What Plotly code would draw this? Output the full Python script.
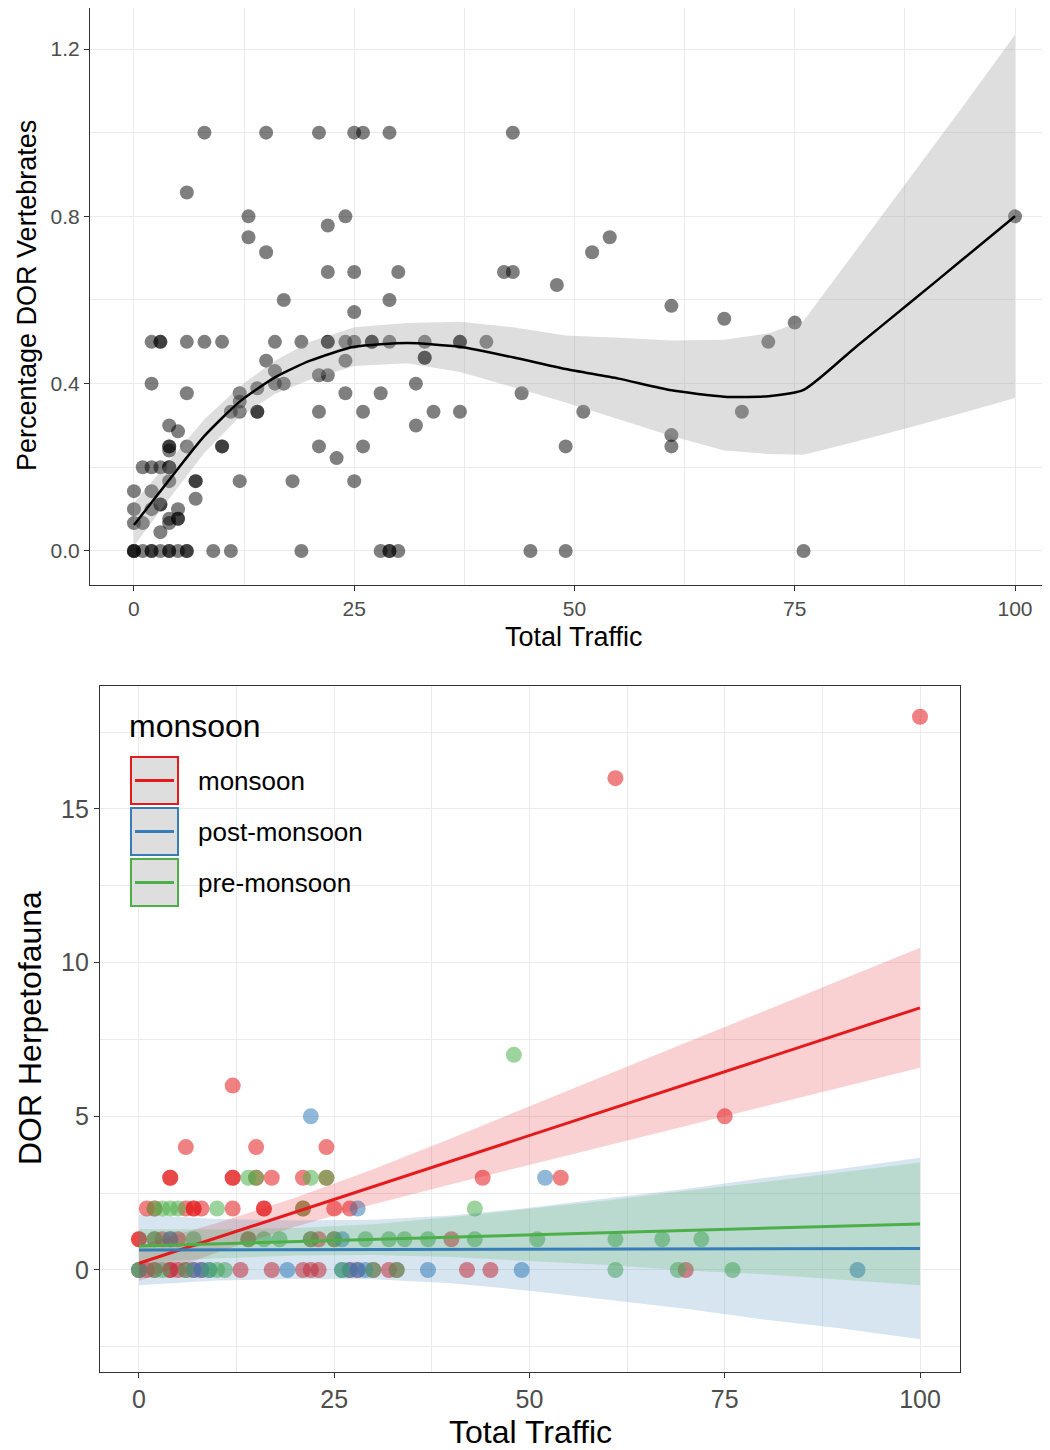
import plotly.graph_objects as go

# ---------------- Top panel data ----------------
top_x = [8, 15, 21, 25, 26, 29, 43,
         6,
         13, 24, 100,
         22,
         13, 54,
         15, 52,
         22, 25, 30, 42, 43,
         48,
         17, 29,
         61,
         25,
         67,
         75,
         2, 3, 3, 6, 8, 10, 16, 19, 22, 22, 24, 25, 27, 27, 29, 33, 37, 37, 40, 72,
         33, 33,
         15, 24,
         16,
         21, 22,
         2, 16, 17, 32,
         14,
         6, 12, 24, 28, 44,
         12,
         11, 12, 14, 14, 21, 26, 34, 37, 51, 69,
         4, 32,
         5,
         61,
         4, 4, 6, 10, 10, 21, 26, 49, 61,
         4,
         23,
         1, 2, 3, 4, 4,
         4, 7, 7, 12, 18, 25,
         0, 2,
         7,
         3, 3,
         0, 2, 5,
         4, 5, 5,
         0, 1, 4,
         3,
         0, 0, 0, 1, 2, 2, 3, 4, 4, 5, 6, 6, 9, 11, 19, 28, 29, 29, 30, 45, 49, 76]
top_y = [1.0] * 7 + [0.857] + [0.8] * 3 + [0.778] + [0.75] * 2 + [0.714] * 2 + \
        [0.667] * 5 + [0.636] + [0.6] * 2 + [0.586] + [0.571] + [0.555] + [0.546] + \
        [0.5] * 20 + [0.462] * 2 + [0.455] * 2 + [0.43] + [0.42] * 2 + [0.4] * 4 + \
        [0.389] + [0.377] * 5 + [0.357] + [0.333] * 10 + [0.3] * 2 + [0.286] + \
        [0.277] + [0.25] * 9 + [0.24] + [0.222] + [0.2] * 5 + [0.167] * 6 + \
        [0.143] * 2 + [0.125] + [0.111] * 2 + [0.1] * 3 + [0.077] * 3 + \
        [0.0667] * 3 + [0.045] + [0.0] * 22

top_fit_x = [0, 4, 8, 12, 16, 20, 25, 31, 37, 43, 49, 55, 61, 67, 72, 76, 82, 88, 94, 100]
top_fit_y = [0.062, 0.170, 0.275, 0.357, 0.415, 0.455, 0.488, 0.497, 0.488, 0.463,
             0.435, 0.412, 0.384, 0.369, 0.370, 0.385, 0.489, 0.592, 0.696, 0.800]
top_upper = [0.115, 0.215, 0.315, 0.393, 0.455, 0.500, 0.535, 0.545, 0.548, 0.535,
             0.515, 0.510, 0.503, 0.505, 0.520, 0.550, 0.720, 0.890, 1.060, 1.234]
top_lower = [0.012, 0.125, 0.235, 0.321, 0.375, 0.410, 0.442, 0.449, 0.428, 0.392,
             0.355, 0.315, 0.275, 0.240, 0.232, 0.230, 0.262, 0.295, 0.330, 0.366]

# ---------------- Bottom panel data ----------------
monsoon_x = [0, 1, 2, 4, 4, 5, 6, 7, 8, 13, 17, 21, 22, 23, 27, 28, 30, 32, 33, 42, 45, 70,
             0, 0, 2, 3, 4, 5, 14, 22, 23, 25, 40,
             1, 2, 6, 7, 7, 8, 12, 16, 16, 21, 25, 27,
             4, 4, 12, 12, 15, 17, 21, 24, 44, 54,
             6, 15, 24,
             75,
             12,
             61,
             100]
monsoon_y = [0] * 22 + [1] * 11 + [2] * 12 + [3] * 10 + [4] * 3 + [5] + [6] + [16] + [18]

post_x = [0, 7, 8, 9, 19, 26, 27, 28, 29, 37, 49, 92,
          4, 26,
          28,
          52,
          22]
post_y = [0] * 12 + [1] * 2 + [2] + [3] + [5]

pre_x = [0, 2, 3, 6, 9, 10, 11, 26, 30, 33, 61, 69, 76,
         2, 7, 14, 16, 18, 22, 25, 29, 32, 34, 37, 43, 51, 61, 67, 72,
         2, 3, 4, 5, 10, 21, 43,
         14, 15, 22, 24,
         48]
pre_y = [0] * 13 + [1] * 16 + [2] * 7 + [3] * 4 + [7]

fit_x = [0, 10, 20, 30, 40, 50, 60, 70, 80, 90, 100]
monsoon_fit = [0.22, 1.05, 1.88, 2.71, 3.54, 4.38, 5.21, 6.04, 6.87, 7.70, 8.53]
monsoon_lo = [-0.36, 0.57, 1.41, 2.14, 2.79, 3.43, 4.06, 4.69, 5.32, 5.95, 6.58]
monsoon_hi = [0.80, 1.53, 2.35, 3.28, 4.29, 5.33, 6.36, 7.39, 8.42, 9.45, 10.48]
post_fit = [0.65, 0.655, 0.66, 0.665, 0.67, 0.675, 0.68, 0.685, 0.69, 0.695, 0.70]
post_lo = [-0.50, -0.345, -0.29, -0.305, -0.43, -0.675, -0.97, -1.265, -1.61, -1.905, -2.25]
post_hi = [1.80, 1.655, 1.61, 1.635, 1.77, 2.025, 2.33, 2.635, 2.99, 3.295, 3.65]
pre_fit = [0.78, 0.85, 0.92, 0.99, 1.07, 1.14, 1.21, 1.28, 1.36, 1.43, 1.50]
pre_lo = [0.23, 0.38, 0.47, 0.49, 0.42, 0.29, 0.16, -0.02, -0.14, -0.32, -0.50]
pre_hi = [1.33, 1.32, 1.37, 1.49, 1.72, 1.99, 2.26, 2.58, 2.86, 3.18, 3.50]

seasons = ["monsoon", "post-monsoon", "pre-monsoon"]
season_colors = ["#E41A1C", "#377EB8", "#4DAF4A"]
season_fill = ["rgba(228,26,28,0.2)", "rgba(55,126,184,0.2)", "rgba(77,175,74,0.2)"]

# tick labels
x_ticks = [0, 25, 50, 75, 100]
top_y_ticks = [0.0, 0.4, 0.8, 1.2]
top_y_labels = ["0.0", "0.4", "0.8", "1.2"]
bot_y_ticks = [0, 5, 10, 15]

W, H = 1050, 1450
OFF = 8  # page body margin offset (screen px = figure px + OFF)
FONT = "Liberation Sans, Arial, sans-serif"


def fx(sx):
    return (sx - OFF) / W


def fy(sy):
    return 1 - (sy - OFF) / H


fig = go.Figure()

# ---- top panel ----
fig.add_trace(go.Scatter(x=top_x, y=top_y, mode="markers", xaxis="x", yaxis="y",
                         marker=dict(color="black", opacity=0.5, size=14, line=dict(width=0)),
                         showlegend=False, hoverinfo="x+y"))
fig.add_trace(go.Scatter(x=top_fit_x + top_fit_x[::-1], y=top_upper + top_lower[::-1],
                         xaxis="x", yaxis="y", mode="lines", fill="toself",
                         fillcolor="rgba(153,153,153,0.32)", line=dict(width=0),
                         showlegend=False, hoverinfo="skip"))
fig.add_trace(go.Scatter(x=top_fit_x, y=top_fit_y, mode="lines", xaxis="x", yaxis="y",
                         line=dict(color="black", width=2.5, shape="spline", smoothing=0.6),
                         showlegend=False))

# ---- bottom panel ----
pts = [(monsoon_x, monsoon_y), (post_x, post_y), (pre_x, pre_y)]
for (px, py), col in zip(pts, season_colors):
    fig.add_trace(go.Scatter(x=px, y=py, mode="markers", xaxis="x2", yaxis="y2",
                             marker=dict(color=col, opacity=0.55, size=16, line=dict(width=0)),
                             showlegend=False))
bands = [(monsoon_lo, monsoon_hi), (post_lo, post_hi), (pre_lo, pre_hi)]
for (lo, hi), fc in zip(bands, season_fill):
    fig.add_trace(go.Scatter(x=fit_x + fit_x[::-1], y=hi + lo[::-1], mode="lines",
                             xaxis="x2", yaxis="y2", fill="toself", fillcolor=fc,
                             line=dict(width=0), showlegend=False, hoverinfo="skip"))
for fyv, col in zip([monsoon_fit, post_fit, pre_fit], season_colors):
    fig.add_trace(go.Scatter(x=fit_x, y=fyv, mode="lines", xaxis="x2", yaxis="y2",
                             line=dict(color=col, width=3), showlegend=False))

grid = "#ebebeb"
axis_common = dict(showline=True, linecolor="#333333", linewidth=1.2, mirror=True,
                   ticks="outside", ticklen=5, tickcolor="#333333", tickwidth=1.2,
                   showgrid=True, gridcolor=grid, gridwidth=1.3, zeroline=False)

fig.update_layout(
    width=W, height=H, margin=dict(l=0, r=0, t=0, b=0),
    paper_bgcolor="white", plot_bgcolor="white",
    font=dict(family=FONT, color="black"),
    xaxis=dict(domain=[fx(90), 1.0], range=[-4.99, 104.88], tickvals=x_ticks,
               ticktext=[str(v) for v in x_ticks], anchor="y",
               tickfont=dict(size=21, color="#4d4d4d"),
               minor=dict(dtick=12.5, tick0=0, showgrid=True, gridcolor=grid, gridwidth=0.7, ticks=""),
               **axis_common),
    yaxis=dict(domain=[fy(585), fy(8)], range=[-0.0813, 1.298], tickvals=top_y_ticks,
               ticktext=top_y_labels, anchor="x",
               tickfont=dict(size=21, color="#4d4d4d"),
               minor=dict(dtick=0.2, tick0=0, showgrid=True, gridcolor=grid, gridwidth=0.7, ticks=""),
               **axis_common),
    xaxis2=dict(domain=[fx(100), fx(960)], range=[-4.99, 105.12], tickvals=x_ticks,
                ticktext=[str(v) for v in x_ticks], anchor="y2",
                tickfont=dict(size=25, color="#4d4d4d"),
                minor=dict(dtick=12.5, tick0=0, showgrid=True, gridcolor=grid, gridwidth=0.7, ticks=""),
                **axis_common),
    yaxis2=dict(domain=[fy(1372), fy(686)], range=[-3.319, 19.0], tickvals=bot_y_ticks,
                ticktext=[str(v) for v in bot_y_ticks], anchor="x2",
                tickfont=dict(size=25, color="#4d4d4d"),
                minor=dict(dtick=2.5, tick0=0, showgrid=True, gridcolor=grid, gridwidth=0.7, ticks=""),
                **axis_common),
)

annots = []
# axis titles
annots.append(dict(text="Total Traffic", x=fx(574), y=fy(637), xref="paper", yref="paper",
                   showarrow=False, font=dict(size=27, color="black"), xanchor="center", yanchor="middle"))
annots.append(dict(text="Percentage DOR Vertebrates", x=fx(27), y=fy(296), xref="paper", yref="paper",
                   showarrow=False, textangle=-90, font=dict(size=27, color="black"),
                   xanchor="center", yanchor="middle"))
annots.append(dict(text="Total Traffic", x=fx(530), y=fy(1432), xref="paper", yref="paper",
                   showarrow=False, font=dict(size=32, color="black"), xanchor="center", yanchor="middle"))
annots.append(dict(text="DOR Herpetofauna", x=fx(30), y=fy(1028), xref="paper", yref="paper",
                   showarrow=False, textangle=-90, font=dict(size=32, color="black"),
                   xanchor="center", yanchor="middle"))

# legend (drawn manually)
annots.append(dict(text="monsoon", x=fx(127), y=fy(726), xref="paper", yref="paper", showarrow=False,
                   font=dict(size=32, color="black"), xanchor="left", yanchor="middle"))
shapes = []
key_tops = [757, 808, 859]
for name, col, top in zip(seasons, season_colors, key_tops):
    shapes.append(dict(type="rect", xref="paper", yref="paper", x0=fx(131), x1=fx(178),
                       y0=fy(top + 47), y1=fy(top),
                       fillcolor="#dedede", line=dict(color=col, width=2)))
    shapes.append(dict(type="line", xref="paper", yref="paper", x0=fx(135), x1=fx(174),
                       y0=fy(top + 23.5), y1=fy(top + 23.5),
                       line=dict(color=col, width=3)))
    annots.append(dict(text=name, x=fx(196), y=fy(top + 24), xref="paper", yref="paper",
                       showarrow=False, font=dict(size=26, color="black"),
                       xanchor="left", yanchor="middle"))

fig.update_layout(annotations=annots, shapes=shapes)
fig.write_html("out.html")
